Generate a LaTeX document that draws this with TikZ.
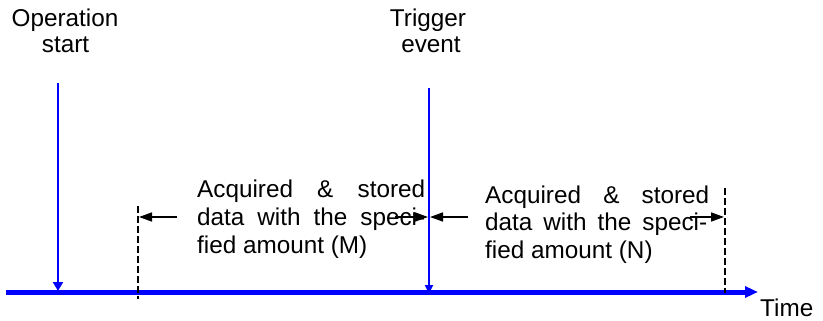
\documentclass[tikz,border=0pt]{standalone}
\usepackage{fontspec}
\setmainfont{Liberation Sans}
\usetikzlibrary{arrows.meta}
\definecolor{axisblue}{RGB}{0,0,255}
\begin{document}
\begin{tikzpicture}[x=1pt,y=-1pt,
  txt/.style={inner sep=0pt,font=\fontsize{24.3}{27}\selectfont},
  axisline/.style={draw=axisblue,line width=5pt,-{Triangle[length=13pt,width=11pt]}},
  bluearrow/.style={draw=axisblue,line width=2pt,-{Triangle[length=9pt,width=10pt]}},
  dashline/.style={draw=black,line width=1.5pt,dash pattern=on 6.5pt off 3.5pt},
  blackarrow/.style={draw=black,line width=1.5pt,-{Triangle[length=13pt,width=9pt]}}]
\useasboundingbox (0,0) rectangle (823,321);
% labels
\node[txt,anchor=base] (op1) at (65,27) {Operation};
\node[txt,anchor=base] (op2) at (65.5,53) {start};
\node[txt,anchor=base] (tr1) at (428,27) {Trigger};
\node[txt,anchor=base] (tr2) at (431,53) {event};
\node[txt,anchor=base west] (time) at (760,316) {Time};
% text block M
\node[txt,anchor=base west] (m1) at (197,197) {\makebox[228pt][s]{Acquired \& stored}};
\node[txt,anchor=base west] (m2) at (197,225) {\makebox[228pt][s]{data with the speci-}};
\node[txt,anchor=base west] (m3) at (197,253) {fied amount (M)};
% text block N
\node[txt,anchor=base west] (n1) at (485,203) {\makebox[224pt][s]{Acquired \& stored}};
\node[txt,anchor=base west] (n2) at (485,230) {\makebox[222pt][s]{data with the speci-}};
\node[txt,anchor=base west] (n3) at (485,258) {fied amount (N)};
% coordinates
\coordinate (ax0) at (6,292);
\coordinate (ax1) at (758,292);
\coordinate (os0) at (58,83);
\coordinate (os1) at (58,291);
\coordinate (te0) at (429,88);
\coordinate (te1) at (429,294);
\coordinate (dl0) at (138,206);
\coordinate (dl1) at (138,299);
\coordinate (dr0) at (725,188);
\coordinate (dr1) at (725,293);
\coordinate (ma0) at (177,217);
\coordinate (ma1) at (139,217);
\coordinate (mb0) at (395,217);
\coordinate (mb1) at (428,217);
\coordinate (na0) at (468,217);
\coordinate (na1) at (430,217);
\coordinate (nb0) at (690,217);
\coordinate (nb1) at (724,217);
% axis
\draw[axisline] (ax0) -- (ax1);
% dashed limits
\draw[dashline] (dl0) -- (dl1);
\draw[dashline] (dr0) -- (dr1);
% blue event lines
\draw[bluearrow] (os0) -- (os1);
\draw[draw=axisblue,line width=2pt,-{Triangle[length=9pt,width=8pt]}] (te0) -- (te1);
% black arrows
\draw[blackarrow] (ma0) -- (ma1);
\draw[blackarrow] (mb0) -- (mb1);
\draw[blackarrow] (na0) -- (na1);
\draw[blackarrow] (nb0) -- (nb1);
\end{tikzpicture}
\end{document}
